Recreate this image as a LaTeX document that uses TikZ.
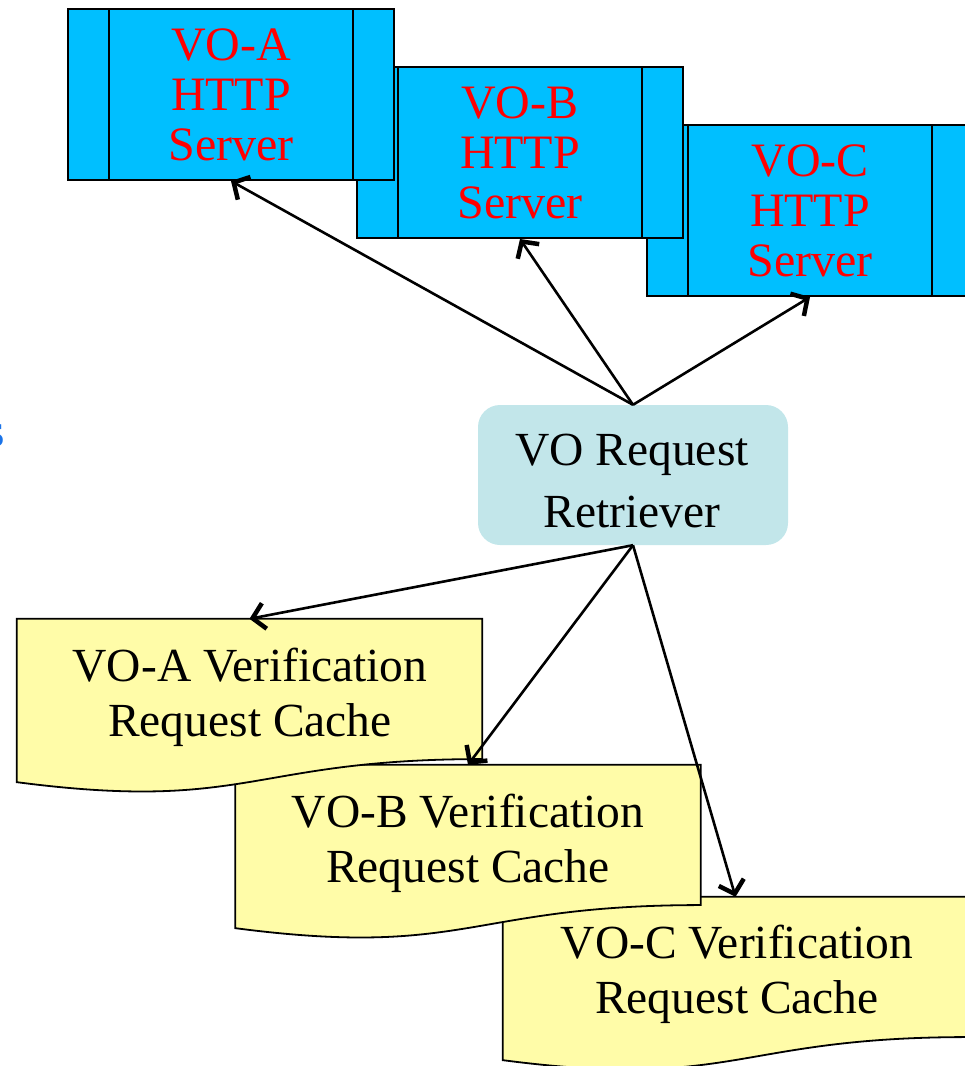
\documentclass[tikz,border=0pt]{standalone}
\usepackage{fontspec}
\setmainfont{Liberation Serif}
\usetikzlibrary{arrows.meta,calc}

\definecolor{srvfill}{HTML}{00BFFF}
\definecolor{retfill}{HTML}{C2E6EA}
\definecolor{docfill}{HTML}{FFFCA8}
\definecolor{sblue}{HTML}{1A73E8}

\tikzset{
  txt/.style={font=\fontsize{47.5}{50}\selectfont, align=center, inner sep=0pt},
  server/.style={txt, font=\fontsize{48}{50}\selectfont, text=red, draw=black,
    line width=2pt, fill=srvfill,
    minimum width=326pt, minimum height=171pt,
    path picture={
      \draw[line width=2pt]
        ([xshift=40.75pt]path picture bounding box.north west) --
        ([xshift=40.75pt]path picture bounding box.south west)
        ([xshift=-40.75pt]path picture bounding box.north east) --
        ([xshift=-40.75pt]path picture bounding box.south east);
    }},
  retbox/.style={fill=retfill, rounded corners=22pt, minimum width=310pt,
    minimum height=140pt, inner sep=0pt},
  docframe/.style={minimum width=465pt, minimum height=174.5pt, inner sep=0pt},
  docshape/.style={fill=docfill, draw=black, line width=1.8pt, line join=miter},
  doctext/.style={txt, font=\fontsize{47.5}{55}\selectfont},
  rettext/.style={txt, font=\fontsize{47.5}{62}\selectfont},
  conn/.style={line width=2.6pt,
    -{Straight Barb[length=12pt,width=26pt,line width=4.5pt]}},
}

% document outline with a wavy bottom edge, built on a frame node
\newcommand\docwave[1]{%
  \path[docshape] (#1.north west) -- (#1.north east)
    -- ($(#1.north east)!0.802!(#1.south east)$)
    .. controls ($(#1.north)!0.802!(#1.south)$) and ($(#1.north)!1.1075!(#1.south)$)
    .. ($(#1.north west)!0.934!(#1.south west)$) -- cycle;}

\begin{document}
\begin{tikzpicture}[x=1pt,y=-1pt]
\useasboundingbox (0,0) rectangle (965,1066);

% fragment of a blue letter, cut by the left edge
\node[txt, text=sblue, anchor=base east] (sfrag) at (5,446) {s};

% HTTP servers, back to front
\node[server] (srvC) at (810,210.5) {VO-C\\HTTP\\Server};
\node[server] (srvB) at (520,152.5) {VO-B\\HTTP\\Server};
\node[server] (srvA) at (231,94.5) {VO-A\\HTTP\\Server};

% verification request caches, back to front
\node[docframe] (cacheC) at (735.5,984.25) {};
\docwave{cacheC}
\node[doctext] (cacheCtext) at (737,974) {VO-C Verification\\Request Cache};

\node[docframe] (cacheB) at (468,852.25) {};
\docwave{cacheB}
\node[doctext] (cacheBtext) at (468,843) {VO-B Verification\\Request Cache};

\node[docframe] (cacheA) at (249.5,706.25) {};
\docwave{cacheA}
\node[doctext] (cacheAtext) at (250,697) {VO-A Verification\\Request Cache};

% retriever
\node[retbox] (ret) at (633,475) {};
\node[rettext] (rettxt) at (632,481) {VO Request\\Retriever};

% connectors
\draw[conn] (ret.north) -- (srvA.south);
\draw[conn] (ret.north) -- (srvB.south);
\draw[conn] (ret.north) -- (srvC.south);
\draw[conn] (ret.south) -- (cacheA.north);
\draw[conn] (ret.south) -- (cacheB.north);
\draw[conn] (ret.south) -- (cacheC.north);
\end{tikzpicture}
\end{document}
